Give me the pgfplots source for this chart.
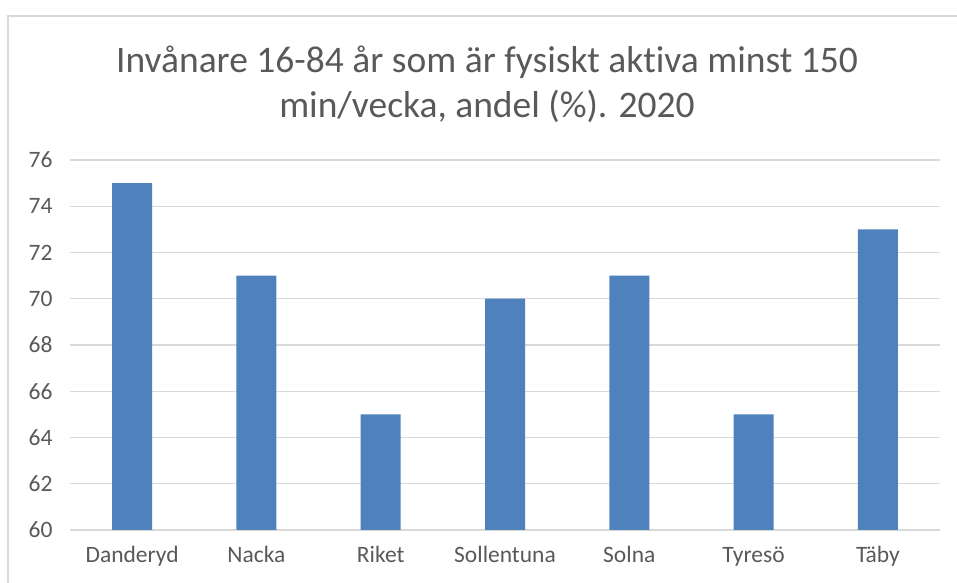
\documentclass[border=0pt]{standalone}
\usepackage{pgfplots}
\pgfplotsset{compat=1.18}
\usepackage{fontspec}
\setmainfont{Carlito}[Ligatures={NoCommon,TeX}]
\definecolor{barblue}{HTML}{4F81BD}
\definecolor{gridgray}{HTML}{D9D9D9}
\definecolor{txtgray}{HTML}{595959}
\begin{document}
\begin{tikzpicture}[x=1bp,y=1bp]
\useasboundingbox (0,0) rectangle (957,583);
\draw[gridgray, line width=1.5bp] (8,0) -- (8,567) -- (957,567);
\node[txtgray, font=\fontsize{37.5bp}{42bp}\selectfont] at (487,521) {Invånare 16-84 år som är fysiskt aktiva minst 150};
\node[txtgray, font=\fontsize{37.5bp}{42bp}\selectfont] at (487,477) {min/vecka, andel (\%). 2020};
\begin{axis}[
  at={(70bp,53bp)}, anchor=south west,
  scale only axis, width=870bp, height=370bp,
  xmin=-0.5, xmax=6.5, ymin=60, ymax=76,
  ytick={60,62,...,76},
  xtick={0,...,6},
  xticklabels={Danderyd,Nacka,Riket,Sollentuna,Solna,Tyresö,Täby},
  axis x line*=bottom, axis y line*=left,
  x axis line style={draw=gridgray, line width=1.2bp},
  y axis line style={draw=none},
  ymajorgrids, grid style={gridgray, line width=1.2bp},
  major tick length=0pt,
  tick label style={txtgray, font=\fontsize{23.5bp}{26bp}\selectfont},
  /pgf/number format/assume math mode=true,
  yticklabel style={xshift=-14bp},
  xticklabel style={yshift=-13bp},
  clip=false,
]
\addplot[ybar, bar width=40bp, fill=barblue, draw=none] coordinates {
(0,75) (1,71) (2,65) (3,70) (4,71) (5,65) (6,73)};
\end{axis}
\end{tikzpicture}
\end{document}
